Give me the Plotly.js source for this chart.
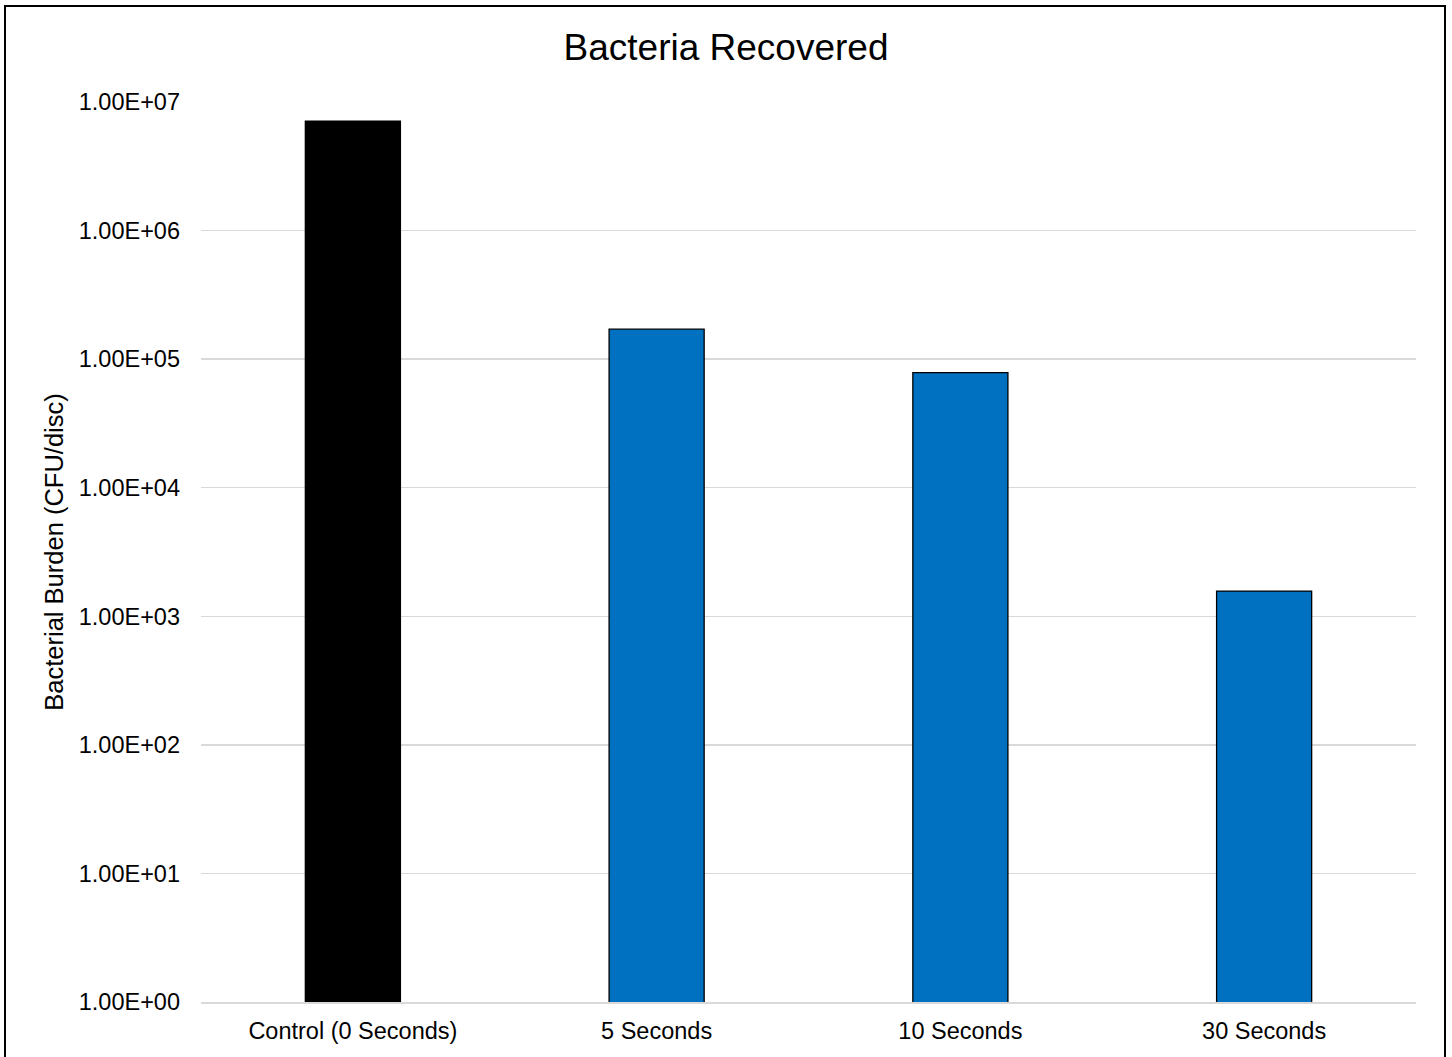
<!DOCTYPE html>
<html>
<head>
<meta charset="utf-8">
<script src="https://cdn.plot.ly/plotly-3.0.1.min.js"></script>
<style>
  html, body { margin: 0; padding: 0; background: #fff; overflow: hidden; }
  #wrap { position: relative; width: 1452px; height: 1057px; overflow: hidden; }
  #chart { position: absolute; left: 0; top: 0; width: 1452px; height: 1057px; }
  #frame { position: absolute; left: 4px; top: 5px; width: 1442px; height: 1100px;
           box-sizing: border-box; border: 2px solid #000; pointer-events: none; }
</style>
</head>
<body>
<div id="wrap">
  <div id="chart"></div>
  <div id="frame"></div>
</div>
<script>
// ---- data ----
const categories = ["Control (0 Seconds)", "5 Seconds", "10 Seconds", "30 Seconds"];
const cfuValues = [7.1e6, 1.71e5, 7.85e4, 1.57e3];
const yTickValues = [1, 10, 100, 1000, 10000, 100000, 1000000, 10000000];
const yTickLabels = ["1.00E+00", "1.00E+01", "1.00E+02", "1.00E+03", "1.00E+04", "1.00E+05", "1.00E+06", "1.00E+07"];

// ---- styles ----
const barColors = ["#000000", "#0070C0", "#0070C0", "#0070C0"];
const FONT = "Liberation Sans, Arial, sans-serif";

const trace = {
  type: "bar",
  x: categories,
  y: cfuValues,
  marker: { color: barColors, line: { color: "#000000", width: 1.3 } },
  hoverinfo: "x+y"
};

const layout = {
  width: 1452,
  height: 1057,
  margin: { l: 201, r: 36, t: 102, b: 55 },
  paper_bgcolor: "#ffffff",
  plot_bgcolor: "#ffffff",
  showlegend: false,
  bargap: 0.687,
  font: { family: FONT, color: "#000000" },
  title: {
    text: "Bacteria Recovered",
    font: { family: FONT, size: 37, color: "#000000" },
    x: 0.5, xref: "container", xanchor: "center",
    y: 1 - 47 / 1057, yref: "container", yanchor: "middle"
  },
  xaxis: {
    type: "category",
    showgrid: false,
    zeroline: false,
    showline: true,
    linecolor: "#d9d9d9",
    linewidth: 1.5,
    ticks: "",
    tickfont: { family: FONT, size: 23.5, color: "#000000" },
    ticklabelstandoff: 7
  },
  yaxis: {
    type: "log",
    range: [0, 7],
    tickmode: "array",
    tickvals: yTickValues,
    ticktext: yTickLabels,
    showgrid: true,
    gridcolor: "#d9d9d9",
    gridwidth: 1.5,
    zeroline: false,
    showline: false,
    ticks: "",
    tickfont: { family: FONT, size: 23.5, color: "#000000" },
    ticklabelstandoff: 20,
    title: {
      text: "Bacterial Burden (CFU/disc)",
      font: { family: FONT, size: 25.5, color: "#000000" },
      standoff: 7
    }
  }
};

Plotly.newPlot("chart", [trace], layout, { displayModeBar: false, staticPlot: true });
</script>
</body>
</html>
